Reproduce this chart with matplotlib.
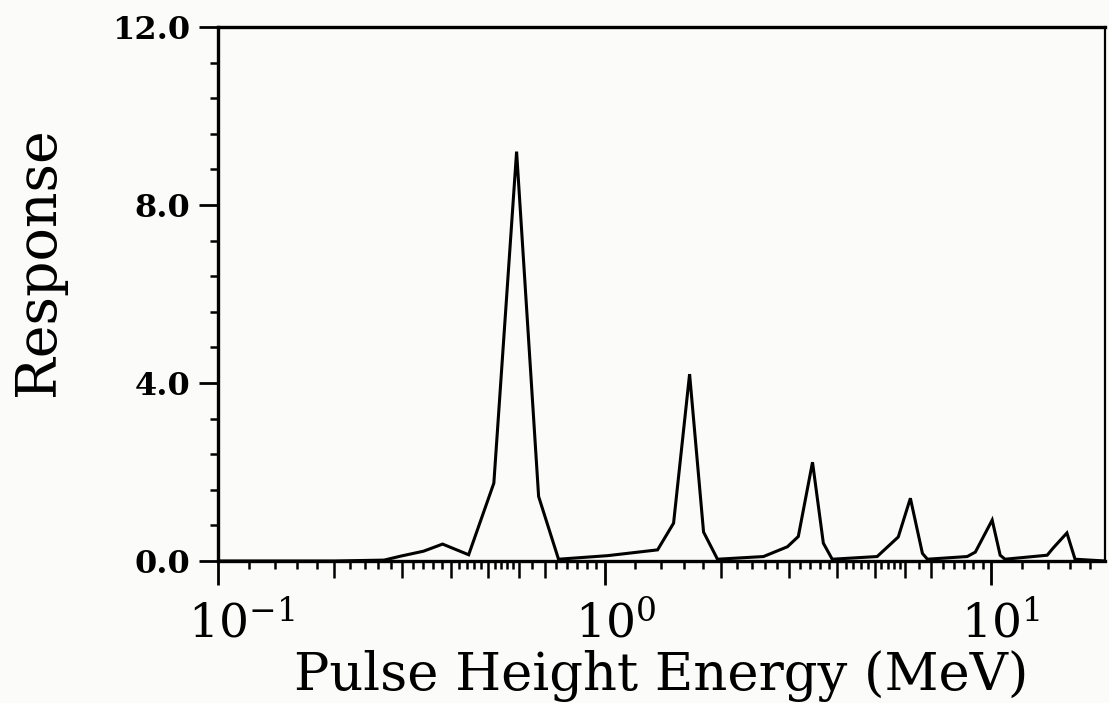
import numpy as np
import matplotlib
matplotlib.use("Agg")
import matplotlib.pyplot as plt
import matplotlib.ticker as mticker
import matplotlib.transforms as mtransforms

plt.rcParams['font.family'] = 'DejaVu Serif'
plt.rcParams['mathtext.fontset'] = 'dejavuserif'

# pulse height spectrum (MeV, response)
energy = [0.10, 0.20, 0.269, 0.297, 0.340, 0.381, 0.445, 0.517, 0.592, 0.675, 0.760,
          1.018, 1.371, 1.508, 1.659, 1.803, 1.959,
          2.576, 2.971, 3.17, 3.45, 3.68, 3.88,
          5.07, 5.75, 6.18, 6.64, 6.84,
          8.67, 9.10, 10.06, 10.55, 10.86,
          13.96, 14.46, 15.7, 16.48, 19.7]
response = [0.0, 0.0, 0.02, 0.11, 0.22, 0.38, 0.14, 1.75, 9.2, 1.45, 0.04,
            0.12, 0.25, 0.85, 4.2, 0.65, 0.04,
            0.10, 0.32, 0.55, 2.22, 0.40, 0.04,
            0.10, 0.54, 1.41, 0.17, 0.04,
            0.10, 0.20, 0.92, 0.13, 0.04,
            0.13, 0.29, 0.63, 0.04, 0.0]

xlim = (0.1, 19.7)
ylim = (0.0, 12.0)
yticks = [0.0, 4.0, 8.0, 12.0]
ytick_labels = ["0.0", "4.0", "8.0", "12.0"]
decades = [0.1, 1.0, 10.0]
decade_labels = [r"$10^{-1}$", r"$10^{0}$", r"$10^{1}$"]
short_mult = [1.2, 1.4, 1.6, 1.8, 2.2, 2.4, 2.6, 2.8, 3.2, 3.4, 3.6, 3.8,
              4.2, 4.4, 4.6, 4.8, 5.2, 5.4, 5.6, 5.8, 6.5, 7.5, 8.0, 8.5, 9.0, 9.5]
long_mult = [2, 3, 4, 5, 6, 7]

fig = plt.figure(figsize=(11.09, 7.03), dpi=100)
fig.patch.set_facecolor('#fbfbf9')
ax = fig.add_axes([0.1966, 0.2020, 0.7998, 0.7596])
ax.set_facecolor('#fbfbf9')

ax.plot(energy, response, color='black', lw=2.2, solid_joinstyle='miter')

ax.set_xscale('log')
ax.set_xlim(*xlim)
ax.set_ylim(*ylim)

# x ticks: decades, short minors, and longer minors on a helper axis
ax.xaxis.set_major_locator(mticker.FixedLocator(decades))
ax.xaxis.set_major_formatter(mticker.FixedFormatter(decade_labels))
short = [d * m for d in decades for m in short_mult if d * m < xlim[1]]
ax.xaxis.set_minor_locator(mticker.FixedLocator(short))
ax.xaxis.set_minor_formatter(mticker.NullFormatter())
ax.tick_params(axis='x', which='major', direction='out', length=17, width=2,
               labelsize=34, pad=12)
ax.tick_params(axis='x', which='minor', direction='out', length=6, width=1.8)

longs = [d * m for d in decades for m in long_mult if d * m < xlim[1]]
sec = ax.secondary_xaxis('bottom')
sec.set_xticks(longs)
sec.set_xticklabels([])
sec.xaxis.set_minor_locator(mticker.NullLocator())
sec.tick_params(axis='x', direction='out', length=12, width=1.8)
sec.spines['bottom'].set_visible(False)

# shift labels so the "10" sits centred on its tick
offset = mtransforms.ScaledTranslation(-0.30, 0, fig.dpi_scale_trans)
for lab in ax.get_xticklabels():
    lab.set_horizontalalignment('left')
    lab.set_transform(lab.get_transform() + offset)

# y ticks on the left only
ax.set_yticks(yticks)
ax.set_yticklabels(ytick_labels, fontweight='bold', fontsize=23)
ax.yaxis.set_minor_locator(mticker.MultipleLocator(0.8))
ax.tick_params(axis='y', which='major', direction='out', length=14, width=2,
               pad=6, right=False)
ax.tick_params(axis='y', which='minor', direction='out', length=6, width=1.8,
               right=False)

for side in ['left', 'bottom', 'top']:
    ax.spines[side].set_linewidth(2.4)
ax.spines['right'].set_linewidth(1.6)

ax.set_xlabel("Pulse Height Energy (MeV)", fontsize=38, labelpad=2)
ax.set_ylabel("Response", fontsize=40)
ax.yaxis.set_label_coords(-0.171, 0.56)

fig.savefig("out.png", dpi=100, facecolor=fig.get_facecolor())
